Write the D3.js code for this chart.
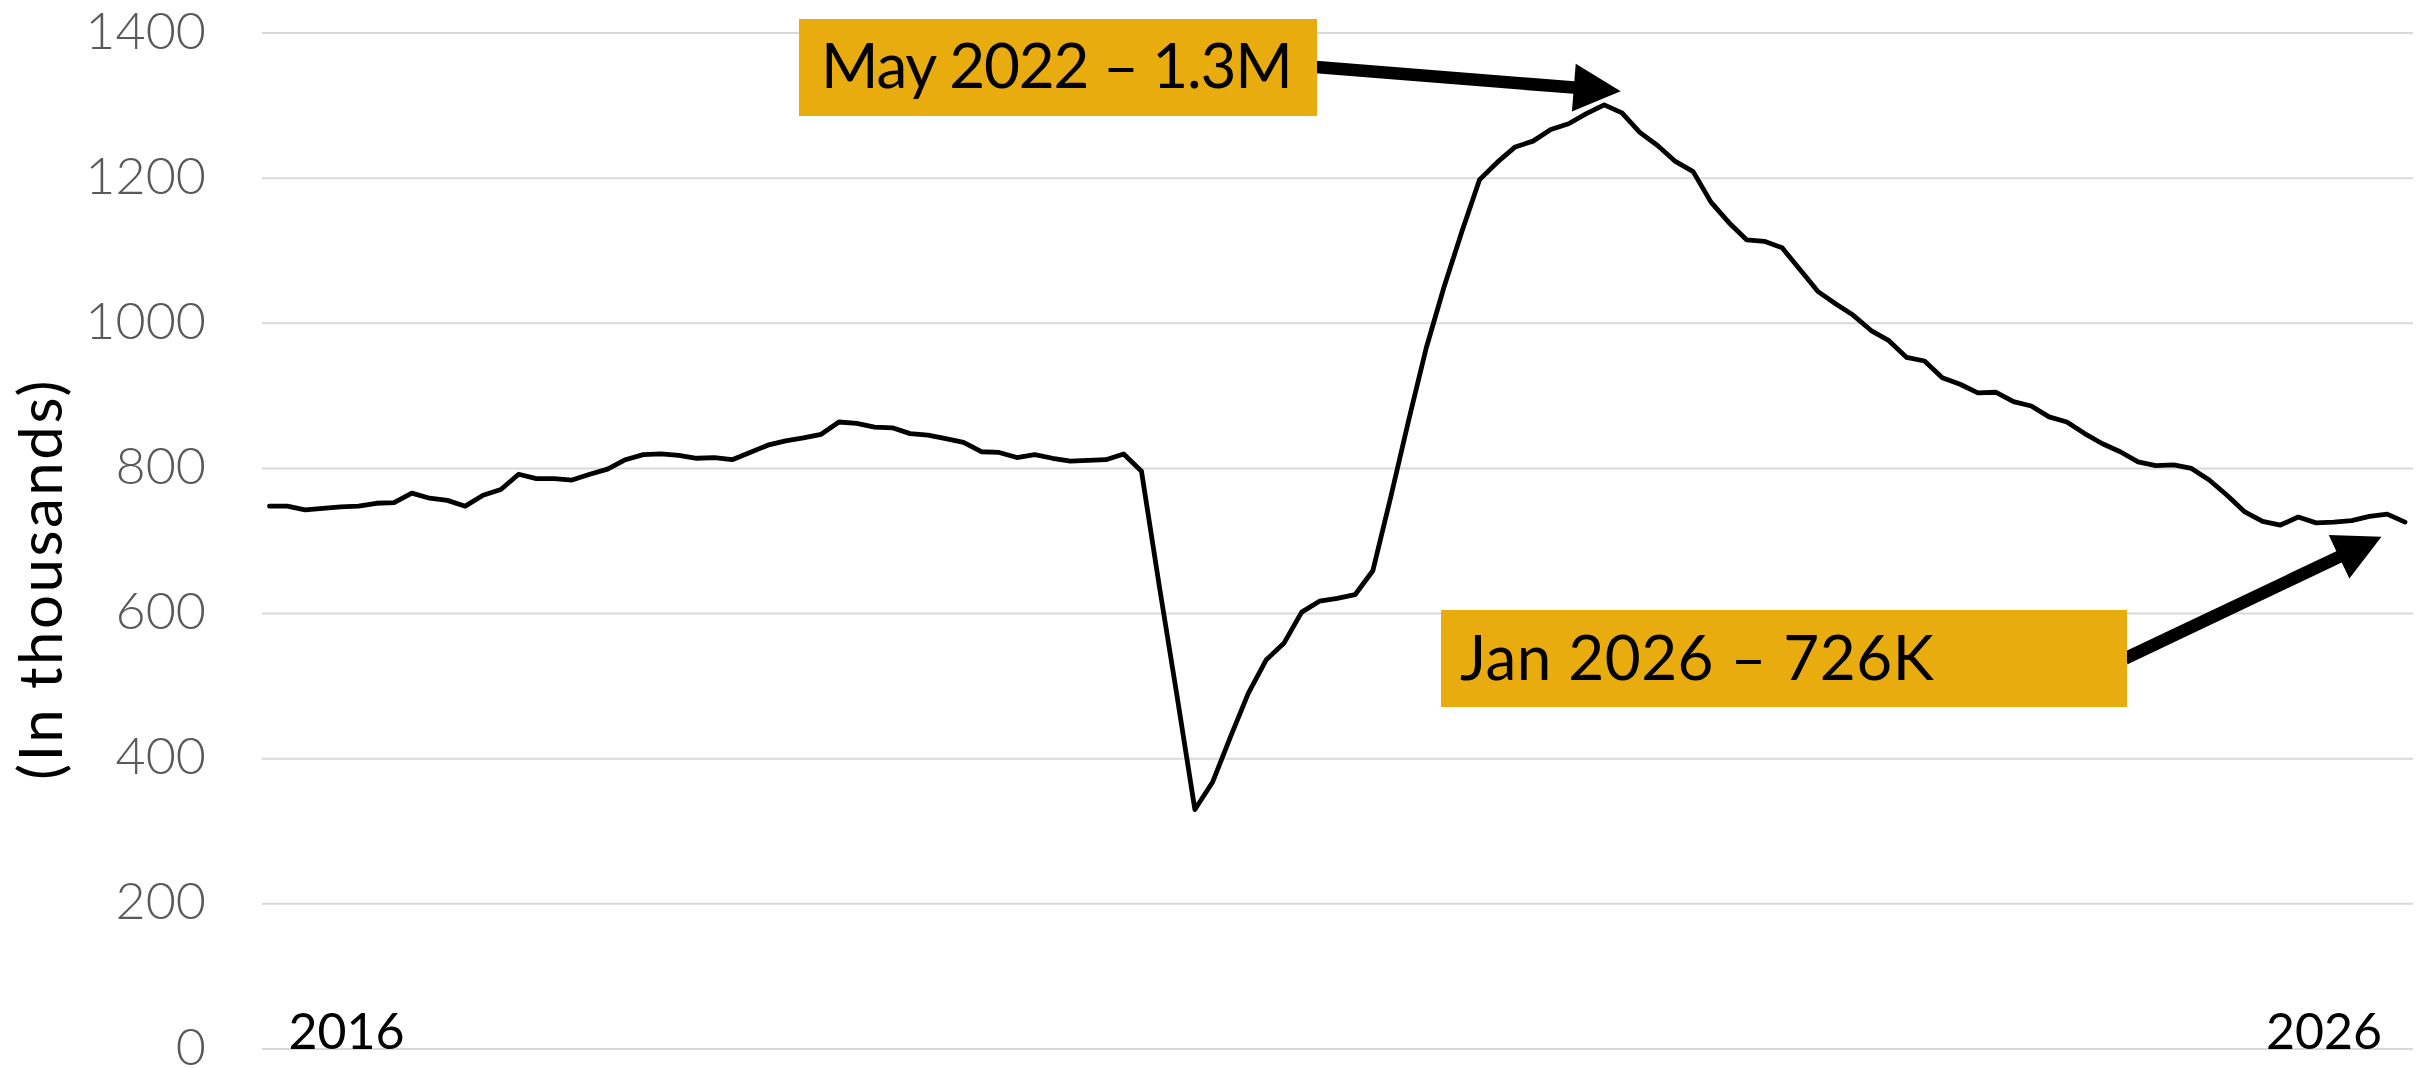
<!DOCTYPE html>
<html>
<head>
<meta charset="utf-8">
<script src="https://cdn.jsdelivr.net/npm/d3@7"></script>
<style>
  html, body { margin: 0; padding: 0; background: #ffffff; }
  svg { display: block; }
</style>
</head>
<body>
<svg id="chart" width="2428" height="1068"></svg>
<script>
// ---- DATA ----
const months = d3.timeMonth.range(new Date(2016, 0, 1), new Date(2026, 1, 1)); // Jan 2016 .. Jan 2026
const values = [
  748, 748, 743, 745, 747, 748, 752, 753, 766, 759, 756, 748,
  763, 771, 792, 786, 786, 784, 792, 799, 812, 819, 820, 818,
  814, 815, 812, 822, 832, 838, 842, 847, 864, 862, 857, 856,
  848, 846, 841, 836, 823, 822, 815, 819, 814, 810, 811, 812,
  820, 796, 638, 486, 330, 368, 430, 490, 536, 559, 602, 617,
  621, 626, 659, 760, 865, 966, 1050, 1126, 1198, 1222, 1243, 1251,
  1267, 1275, 1289, 1301, 1290, 1263, 1245, 1223, 1209, 1167, 1139, 1115,
  1113, 1104, 1074, 1044, 1027, 1011, 990, 976, 953, 948, 925, 916,
  904, 905, 892, 886, 871, 864, 848, 834, 823, 809, 804, 805,
  800, 784, 763, 740, 727, 722, 733, 725, 726, 728, 734, 737,
  726
];
const yTicks = [0, 200, 400, 600, 800, 1000, 1200, 1400];
const xLabels = ["2016", "2026"];
const yTitle = "(In thousands)";
const annPeak = "May 2022 \u2013 1.3M";
const annLast = "Jan 2026 \u2013 726K";

// ---- LAYOUT ----
const svg = d3.select("#chart");
const plotL = 262, plotR = 2413;
const FONT = "Lato, 'Open Sans', sans-serif";
const GOLD = "#E8AC0F";

const x = d3.scalePoint().domain(d3.range(values.length)).range([269.5, 2405]);
const y = d3.scaleLinear().domain([0, 1400]).range([1049, 33]);

// gridlines
const grid = svg.append("g");
grid.selectAll("line").data(yTicks).join("line")
  .attr("x1", plotL).attr("x2", plotR)
  .attr("y1", d => y(d)).attr("y2", d => y(d))
  .attr("stroke", "#d9d9d9").attr("stroke-width", 2);

// y tick labels
svg.append("g").selectAll("text").data(yTicks).join("text")
  .attr("x", 206).attr("y", d => y(d) + 15.5)
  .attr("text-anchor", "end")
  .attr("font-family", FONT).attr("font-weight", 300)
  .attr("font-size", 52).attr("fill", "#595959")
  .text(d => d);

// y title
svg.append("text")
  .attr("transform", "translate(62,579) rotate(-90)")
  .attr("text-anchor", "middle")
  .attr("font-family", FONT).attr("font-size", 60)
  .attr("letter-spacing", 2.5)
  .attr("fill", "#000")
  .text(yTitle);

// x labels
svg.append("text")
  .attr("x", x(0) + 19).attr("y", y(0))
  .attr("font-family", FONT).attr("font-size", 50).attr("fill", "#000")
  .text(xLabels[0]);
svg.append("text")
  .attr("x", x(values.length - 1) - 23).attr("y", y(0))
  .attr("text-anchor", "end")
  .attr("font-family", FONT).attr("font-size", 50).attr("fill", "#000")
  .text(xLabels[1]);

// line
const line = d3.line().x((d, i) => x(i)).y(d => y(d));
svg.append("path")
  .datum(values)
  .attr("d", line)
  .attr("fill", "none")
  .attr("stroke", "#000")
  .attr("stroke-width", 4.8)
  .attr("stroke-linejoin", "round")
  .attr("stroke-linecap", "round");

// ---- ANNOTATIONS ----
function arrowPoly(S, T, bw, hl, hw) {
  const dx = T[0] - S[0], dy = T[1] - S[1];
  const L = Math.hypot(dx, dy);
  const ux = dx / L, uy = dy / L;
  const nx = -uy, ny = ux;
  const B = [T[0] - ux * hl, T[1] - uy * hl];
  const p = (P, k) => [P[0] + nx * k, P[1] + ny * k];
  return [p(S, bw / 2), p(B, bw / 2), p(B, hw / 2), T, p(B, -hw / 2), p(B, -bw / 2), p(S, -bw / 2)];
}
const peakIdx = values.indexOf(d3.max(values));
const lastIdx = values.length - 1;

const anns = [
  { box: [799, 19, 518, 97], text: annPeak, tx: 821, ty: 87.5, ls: -1.2,
    start: [1316, 67], tip: [x(peakIdx) + 16.5, y(values[peakIdx]) - 13.5] },
  { box: [1441, 610, 686, 97], text: annLast, tx: 1460, ty: 680, ls: 0.5,
    start: [2125, 658.5], tip: [x(lastIdx) - 23.5, y(values[lastIdx]) + 14.5] }
];

const ag = svg.append("g");
anns.forEach(a => {
  ag.append("polygon")
    .attr("points", arrowPoly(a.start, a.tip, 12.5, 47, 48).map(p => p.join(",")).join(" "))
    .attr("fill", "#000");
  ag.append("rect")
    .attr("x", a.box[0]).attr("y", a.box[1])
    .attr("width", a.box[2]).attr("height", a.box[3])
    .attr("fill", GOLD);
  ag.append("text")
    .attr("x", a.tx).attr("y", a.ty)
    .attr("font-family", FONT).attr("font-size", 62).attr("fill", "#000")
    .attr("letter-spacing", a.ls)
    .text(a.text);
});
</script>
</body>
</html>
